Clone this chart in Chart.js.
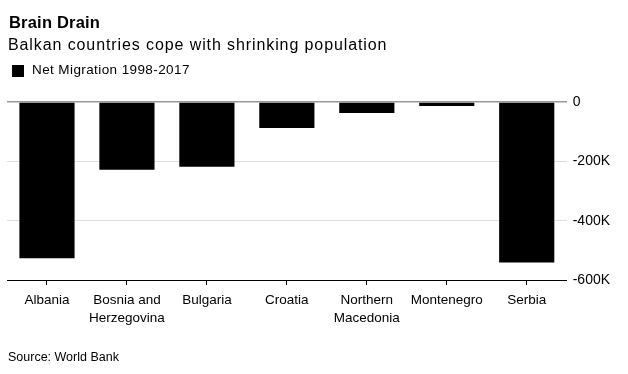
<!DOCTYPE html>
<html>
<head>
<meta charset="utf-8">
<script src="https://cdn.jsdelivr.net/npm/chart.js@4/dist/chart.umd.min.js"></script>
<style>
  html, body { margin: 0; padding: 0; background: #fff; }
  #wrap { position: relative; width: 628px; height: 374px; overflow: hidden; font-family: "Liberation Sans", Arial, Helvetica, sans-serif; color: #000; }
  #wrap canvas { position: absolute; left: 0; top: 0; }
  .t { position: absolute; white-space: nowrap; }
  #title { left: 9px; top: 11.6px; font-size: 16.5px; line-height: 20px; font-weight: bold; letter-spacing: 0.2px; }
  #subtitle { left: 8px; top: 34.5px; font-size: 16px; line-height: 20px; letter-spacing: 0.9px; }
  #legbox { position: absolute; left: 12px; top: 65px; width: 12px; height: 12px; background: #000; }
  #legtext { left: 32px; top: 62.3px; font-size: 13.5px; line-height: 16px; letter-spacing: 0.4px; }
  #source { left: 8px; top: 349.4px; font-size: 12.5px; line-height: 16px; }
</style>
</head>
<body>
<div id="wrap">
  <canvas id="c" width="628" height="374"></canvas>
  <div class="t" id="title">Brain Drain</div>
  <div class="t" id="subtitle">Balkan countries cope with shrinking population</div>
  <div id="legbox"></div>
  <div class="t" id="legtext">Net Migration 1998-2017</div>
  <div class="t" id="source">Source: World Bank</div>
</div>
<script>
const categories = ['Albania', ['Bosnia and', 'Herzegovina'], 'Bulgaria', 'Croatia', ['Northern', 'Macedonia'], 'Montenegro', 'Serbia'];
const netMigration = [-527000, -228000, -218000, -88000, -37000, -13500, -541000];
const yTickValues = [0, -200000, -400000, -600000];
const yTickLabels = ['0', '-200K', '-400K', '-600K'];
const seriesName = 'Net Migration 1998-2017';

const FONT = '"Liberation Sans", Arial, Helvetica, sans-serif';
Chart.defaults.font.family = FONT;
Chart.defaults.color = '#000';

new Chart(document.getElementById('c'), {
  type: 'bar',
  data: {
    labels: categories,
    datasets: [{
      label: seriesName,
      data: netMigration,
      backgroundColor: '#000',
      borderWidth: 0,
      barPercentage: 0.69,
      categoryPercentage: 1.0
    }]
  },
  options: {
    responsive: false,
    devicePixelRatio: 1,
    animation: false,
    layout: { padding: { left: 7, right: 0, top: 102, bottom: 0 } },
    plugins: {
      legend: { display: false },
      title: { display: false },
      tooltip: { enabled: false }
    },
    scales: {
      x: {
        offset: true,
        grid: { display: true, drawOnChartArea: false, drawTicks: true, tickLength: 5, color: '#000', offset: false },
        border: { display: true, color: '#000', width: 1 },
        ticks: { font: { size: 13.5, lineHeight: 1.34 }, color: '#000', padding: 6, maxRotation: 0, autoSkip: false },
        afterFit: (s) => { s.height = 94; }
      },
      y: {
        position: 'right',
        min: -600000,
        max: 0,
        afterBuildTicks: (s) => { s.ticks = yTickValues.map(v => ({ value: v })); },
        grid: {
          drawTicks: false,
          color: (ctx) => {
            const v = ctx.tick ? ctx.tick.value : null;
            if (v === 0) return '#9a9a9a';
            if (v === -600000) return '#000';
            return '#dedede';
          },
          lineWidth: (ctx) => (ctx.tick && ctx.tick.value === 0) ? 1.5 : 1
        },
        border: { display: false },
        ticks: {
          font: { size: 14 },
          color: '#000',
          padding: 6,
          callback: (v) => { const i = yTickValues.indexOf(v); return i >= 0 ? yTickLabels[i] : ''; }
        },
        afterFit: (s) => { s.width = 61.3; }
      }
    }
  }
});
</script>
</body>
</html>
